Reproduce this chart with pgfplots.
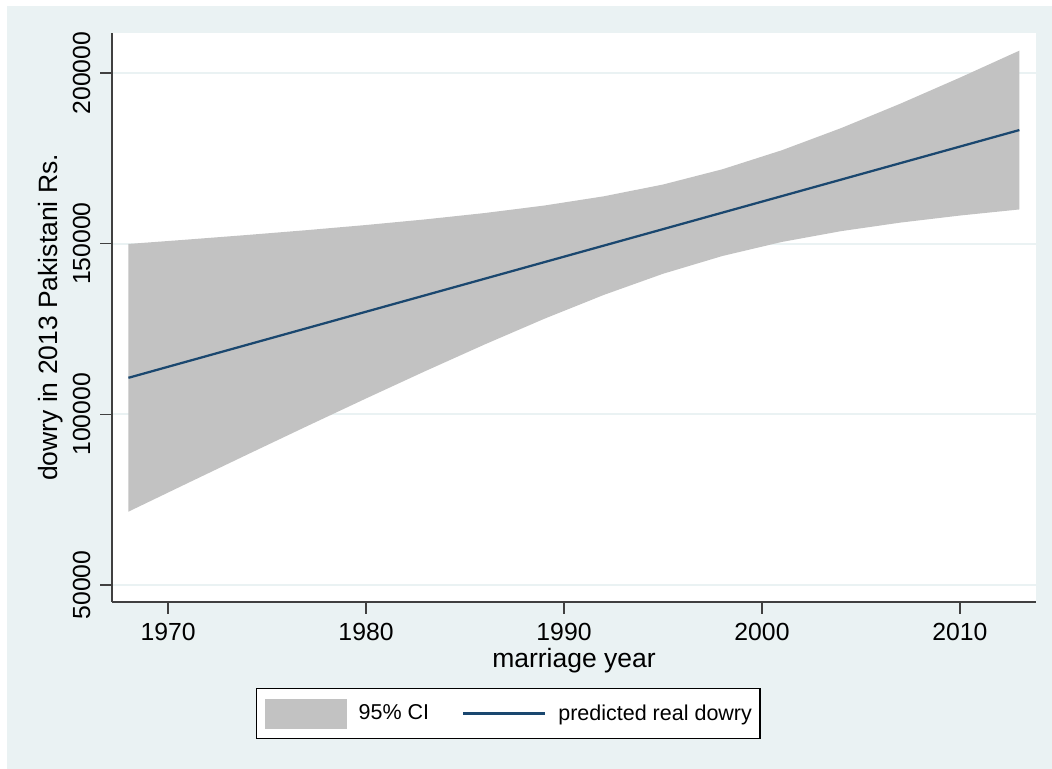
\documentclass[border=0pt]{standalone}
\usepackage{fontspec}
\setmainfont{Liberation Sans}
\usepackage{pgfplots}
\usepackage{pgfplotstable}
\pgfplotsset{compat=1.18}

\definecolor{stbg}{RGB}{234,242,243}
\definecolor{cigray}{RGB}{194,194,194}
\definecolor{stnavy}{RGB}{26,71,111}
\definecolor{axcol}{RGB}{64,64,64}

% linear prediction of real dowry by marriage year
\pgfplotstableread{
year pred
1968 110700
1974 120378
1980 130056
1986 139734
1992 149412
1998 159090
2004 168768
2010 178446
2013 183285
}\predtab

% 95% confidence band: upper bound forward, lower bound backward
\pgfplotstableread{
year bound
1968 149914
1971 151204
1974 152544
1977 153954
1980 155463
1983 157113
1986 158975
1989 161165
1992 163864
1995 167323
1998 171794
2001 177360
2004 183862
2007 191036
2010 198650
2013 206546
2013 160024
2010 158242
2007 156178
2004 153674
2001 150498
1998 146386
1995 141179
1992 134960
1989 127981
1986 120493
1983 112677
1980 104649
1977  96480
1974  88212
1971  79874
1968  71486
}\citab

\begin{document}
\begin{tikzpicture}
\useasboundingbox (0pt,0pt) rectangle (420.8pt,307.6pt);
\fill[white] (0pt,0pt) rectangle (420.8pt,307.6pt);
\fill[stbg] (2.8pt,0pt) rectangle (420.8pt,305.2pt);
\begin{axis}[
  at={(44.8pt,66.8pt)}, anchor=south west,
  scale only axis, width=369.6pt, height=227.6pt,
  xmin=1967.17, xmax=2013.84,
  ymin=45020, ymax=211720,
  axis background/.style={fill=white},
  axis x line*=bottom, axis y line*=left,
  axis line style={axcol, line width=0.7pt, -},
  xtick={1970,1980,1990,2000,2010},
  xticklabels={1970,1980,1990,2000,2010},
  ytick={50000,100000,150000,200000},
  yticklabels={50000,100000,150000,200000},
  scaled y ticks=false,
  tick align=outside,
  major tick length=4.8pt,
  tick style={axcol, line width=0.5pt},
  ymajorgrids, grid style={stbg, line width=0.8pt},
  ticklabel style={font=\fontsize{9.9}{11}\selectfont, inner sep=0pt},
  xticklabel style={yshift=-10.8pt, anchor=base},
  yticklabel style={xshift=-4pt, rotate=90, anchor=base},
  xlabel={marriage year},
  ylabel={dowry in 2013 Pakistani Rs.},
  label style={font=\fontsize{10.6}{12}\selectfont, inner sep=0pt},
  xlabel style={at={(rel axis cs:0.5,-0.115)}, anchor=base},
  ylabel style={at={(rel axis cs:-0.0595,0.5)}, anchor=base, rotate=0},
  legend style={at={(rel axis cs:0.1558,-0.1511)}, anchor=north west,
    draw=black, line width=0.5pt, fill=white,
    inner xsep=3.2pt, inner ysep=4pt,
    font=\fontsize{8.6}{10}\selectfont,
    nodes={inner xsep=0pt, inner ysep=0pt},
    column sep=4.8pt,
    /tikz/every even column/.append style={column sep=13.2pt}},
  legend columns=2,
]
\addplot[fill=cigray, draw=none,
  legend image code/.code={\fill[cigray] (0pt,-5.7pt) rectangle (32.8pt,6.3pt);}]
  table[x=year, y=bound] {\citab};
\addlegendentry{95\% CI}
\addplot[stnavy, line width=0.9pt,
  legend image code/.code={\draw[stnavy, line width=0.9pt] (0pt,0.3pt) -- (32.8pt,0.3pt);}]
  table[x=year, y=pred] {\predtab};
\addlegendentry{predicted real dowry}
\end{axis}
\end{tikzpicture}
\end{document}
